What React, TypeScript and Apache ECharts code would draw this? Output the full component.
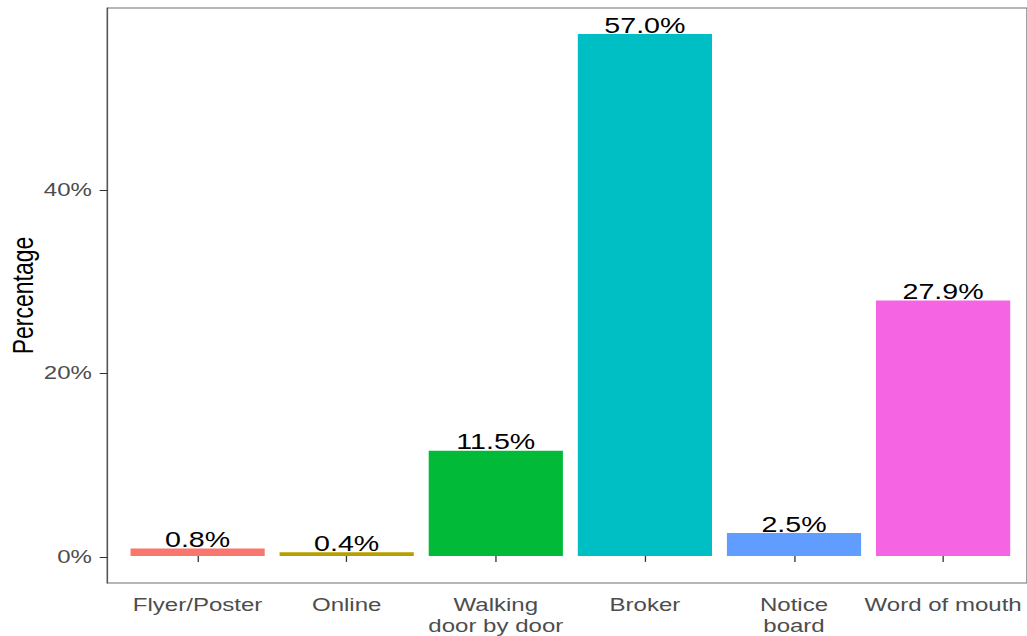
import React, { useEffect, useRef } from "react";
import * as echarts from "echarts";

const categories = ["Flyer/Poster", "Online", "Walking\ndoor by door", "Broker", "Notice\nboard", "Word of mouth"];
const values = [0.8, 0.4, 11.5, 57.0, 2.5, 27.9];
const colors = ["#F8766D", "#B79F00", "#00BA38", "#00BFC4", "#619CFF", "#F564E3"];
const yTicks = [0, 20, 40];

const SX = 1.3;
const W = 1027 / SX;
const H = 636;
const FONT = "Liberation Sans, Arial, sans-serif";

export default function App() {
  const ref = useRef<HTMLDivElement>(null);
  useEffect(() => {
    if (!ref.current) return;
    const chart = echarts.init(ref.current, null, { renderer: "svg" });
    const frameLeft = 107.5 / SX;
    const band = 149.1 / SX;
    const c1 = 197.6 / SX;
    const catLeft = c1 - band / 2;
    const frameRight = c1 + 5 * band + 0.6 * band;
    chart.setOption({
      animation: false,
      backgroundColor: "#ffffff",
      grid: [
        { left: frameLeft, width: frameRight - frameLeft, top: 8, bottom: 53, show: true, borderColor: "#6e6e6e", borderWidth: 1, backgroundColor: "transparent" },
        { left: catLeft, width: band * 6, top: 8, bottom: 53 },
      ],
      xAxis: [
        { gridIndex: 0, type: "value", min: 0, max: 1, show: false },
        {
          gridIndex: 1,
          type: "category",
          data: categories,
          axisLine: { show: false },
          axisTick: { show: true, alignWithLabel: true, length: 6, lineStyle: { color: "#333333" } },
          axisLabel: { color: "#4d4d4d", fontSize: 18.5, fontFamily: FONT, margin: 12, lineHeight: 21, interval: 0 },
          splitLine: { show: false },
        },
      ],
      yAxis: [
        {
          gridIndex: 0,
          type: "value",
          min: -2.85,
          max: 59.85,
          axisLine: { show: true, lineStyle: { color: "#555555" } },
          axisTick: { show: true, customValues: yTicks, length: 6, lineStyle: { color: "#333333" } },
          axisLabel: { customValues: yTicks, formatter: "{value}%", color: "#4d4d4d", fontSize: 18.5, fontFamily: FONT, margin: 12 },
          splitLine: { show: false },
        },
        { gridIndex: 1, type: "value", min: -2.85, max: 59.85, show: false, splitLine: { show: false } },
      ],
      graphic: [
        {
          type: "text",
          x: 17.5,
          y: 295.5,
          rotation: Math.PI / 2,
          style: { text: "Percentage", align: "center", verticalAlign: "middle", fontSize: 23, fontFamily: FONT, fill: "#000000" },
        },
      ],
      series: [
        {
          type: "bar",
          xAxisIndex: 1,
          yAxisIndex: 1,
          barWidth: "90%",
          data: values.map((v, i) => ({ value: v, itemStyle: { color: colors[i] } })),
          label: {
            show: true,
            position: "top",
            distance: -2,
            formatter: (p: any) => `${Number(p.value).toFixed(1)}%`,
            color: "#000000",
            fontSize: 22,
            fontFamily: FONT,
          },
        },
      ],
    });
    return () => chart.dispose();
  }, []);
  return (
    <div style={{ position: "fixed", left: 0, top: 0, width: 1027, height: 636, overflow: "hidden", background: "#fff" }}>
      <div ref={ref} style={{ width: W, height: H, transform: `scaleX(${SX})`, transformOrigin: "0 0" }} />
    </div>
  );
}
